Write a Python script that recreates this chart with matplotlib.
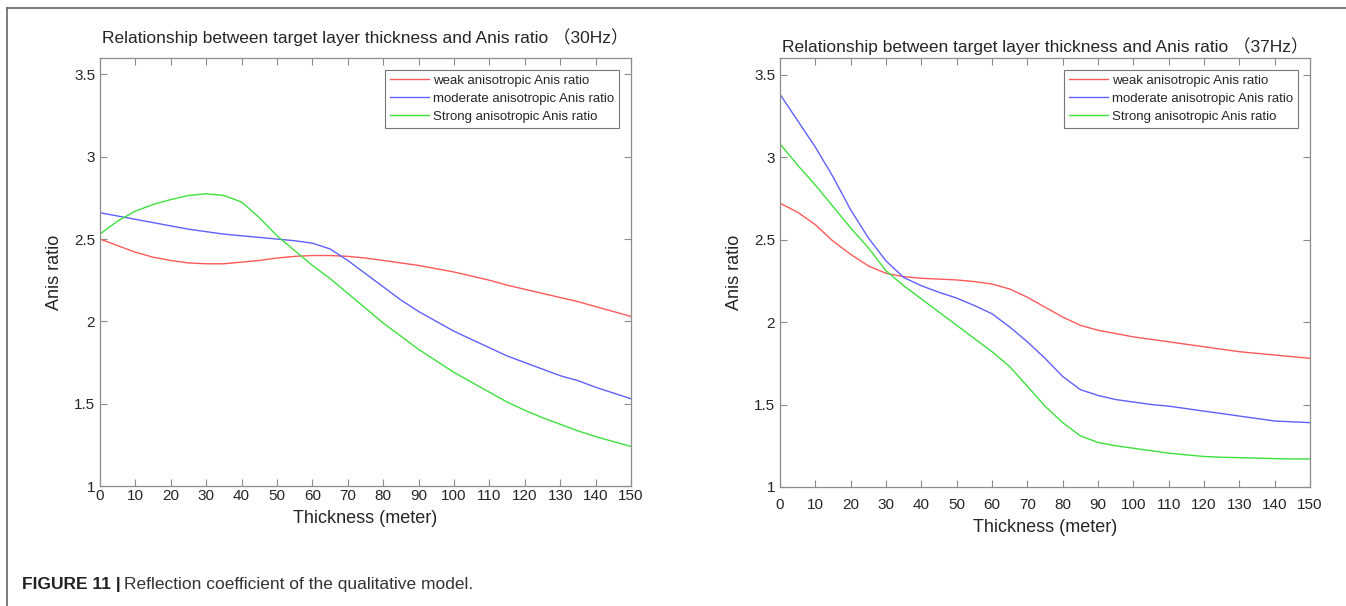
import matplotlib
matplotlib.use("Agg")
import matplotlib.pyplot as plt
from matplotlib.lines import Line2D

plt.rcParams['font.family'] = ['Liberation Sans', 'Noto Sans CJK SC', 'DejaVu Sans']

thickness = list(range(0, 151, 5))

weak_30 = [2.50, 2.46, 2.42, 2.39, 2.37, 2.355, 2.35, 2.35, 2.36, 2.37, 2.385,
           2.395, 2.40, 2.40, 2.395, 2.385, 2.37, 2.355, 2.34, 2.32, 2.30,
           2.275, 2.25, 2.22, 2.195, 2.17, 2.145, 2.12, 2.09, 2.06, 2.03]
moderate_30 = [2.66, 2.64, 2.62, 2.60, 2.58, 2.56, 2.545, 2.53, 2.52, 2.51, 2.50,
               2.49, 2.475, 2.44, 2.37, 2.29, 2.21, 2.13, 2.06, 2.00, 1.94,
               1.89, 1.84, 1.79, 1.75, 1.71, 1.67, 1.64, 1.60, 1.565, 1.53]
strong_30 = [2.53, 2.61, 2.67, 2.71, 2.74, 2.765, 2.775, 2.765, 2.725, 2.63, 2.52,
             2.43, 2.34, 2.26, 2.17, 2.08, 1.99, 1.91, 1.83, 1.76, 1.69,
             1.63, 1.57, 1.51, 1.46, 1.415, 1.375, 1.335, 1.30, 1.27, 1.24]

weak_37 = [2.72, 2.665, 2.59, 2.49, 2.41, 2.34, 2.295, 2.275, 2.265, 2.26, 2.255,
           2.245, 2.23, 2.20, 2.15, 2.09, 2.03, 1.98, 1.95, 1.93, 1.91,
           1.895, 1.88, 1.865, 1.85, 1.835, 1.82, 1.81, 1.80, 1.79, 1.78]
moderate_37 = [3.38, 3.22, 3.06, 2.88, 2.68, 2.51, 2.37, 2.27, 2.22, 2.18, 2.145,
               2.10, 2.05, 1.97, 1.88, 1.78, 1.67, 1.59, 1.555, 1.53, 1.515,
               1.50, 1.49, 1.475, 1.46, 1.445, 1.43, 1.415, 1.40, 1.395, 1.39]
strong_37 = [3.08, 2.95, 2.83, 2.70, 2.57, 2.45, 2.31, 2.22, 2.14, 2.06, 1.98,
             1.90, 1.82, 1.73, 1.61, 1.49, 1.39, 1.31, 1.27, 1.25, 1.235,
             1.22, 1.205, 1.195, 1.185, 1.18, 1.178, 1.175, 1.172, 1.17, 1.17]

series_labels = ['weak anisotropic Anis ratio',
                 'moderate anisotropic Anis ratio',
                 'Strong anisotropic Anis ratio']
titles = ['Relationship between target layer thickness and Anis ratio （30Hz）',
          'Relationship between target layer thickness and Anis ratio （37Hz）']
x_ticks = list(range(0, 151, 10))
y_ticks = [1, 1.5, 2, 2.5, 3, 3.5]
y_tick_labels = ['1', '1.5', '2', '2.5', '3', '3.5']

colors = ['#ff5a5a', '#6060ff', '#3ee03e']
text_col = '#262626'
spine_col = '#8c8c8c'

fig = plt.figure(figsize=(13.46, 6.06), dpi=100)

positions = [[100 / 1346, 1 - 486 / 606, 531 / 1346, 428 / 606],
             [780 / 1346, 1 - 487 / 606, 530 / 1346, 429 / 606]]
datasets = [[weak_30, moderate_30, strong_30], [weak_37, moderate_37, strong_37]]
title_pads = [11, 4]
xtick_pads = [2.5, 8]

for i in range(2):
    ax = fig.add_axes(positions[i])
    for ys, c, lab in zip(datasets[i], colors, series_labels):
        ax.plot(thickness, ys, color=c, lw=1.0, label=lab)
    ax.set_xlim(0, 150)
    ax.set_ylim(1, 3.6)
    ax.set_xticks(x_ticks)
    ax.set_yticks(y_ticks)
    ax.set_yticklabels(y_tick_labels)
    ax.tick_params(direction='in', top=True, right=True, length=5,
                   width=0.8, color=spine_col, labelsize=11,
                   labelcolor=text_col)
    ax.tick_params(axis='x', pad=xtick_pads[i])
    for s in ax.spines.values():
        s.set_color(spine_col)
        s.set_linewidth(0.9)
    ax.set_title(titles[i], fontsize=12.5, color=text_col, pad=title_pads[i])
    ax.set_xlabel('Thickness (meter)', fontsize=13, color=text_col, labelpad=5)
    ax.set_ylabel('Anis ratio', fontsize=13, color=text_col, labelpad=8)
    leg = ax.legend(loc='upper right', fontsize=9.5, frameon=True, fancybox=False,
                    borderaxespad=0.9, handlelength=3.0, handletextpad=0.3,
                    labelspacing=0.45, borderpad=0.35)
    leg.get_frame().set_edgecolor('#555555')
    leg.get_frame().set_linewidth(0.8)
    for t in leg.get_texts():
        t.set_color(text_col)

# outer frame of the figure panel
fx = 7 / 1346
fy = 1 - 8 / 606
fig.add_artist(Line2D([fx, fx], [0, fy], transform=fig.transFigure,
                      color='#666666', lw=1.2))
fig.add_artist(Line2D([fx, 1.0], [fy, fy], transform=fig.transFigure,
                      color='#666666', lw=1.2))

fig.text(22 / 1346, 1 - 585 / 606, 'FIGURE 11 |', fontsize=12.5,
         fontweight='bold', color='#222222', va='center', ha='left')
fig.text(124 / 1346, 1 - 585 / 606, 'Reflection coefficient of the qualitative model.',
         fontsize=12.5, color='#333333', va='center', ha='left')

fig.savefig('out.png', dpi=100)
